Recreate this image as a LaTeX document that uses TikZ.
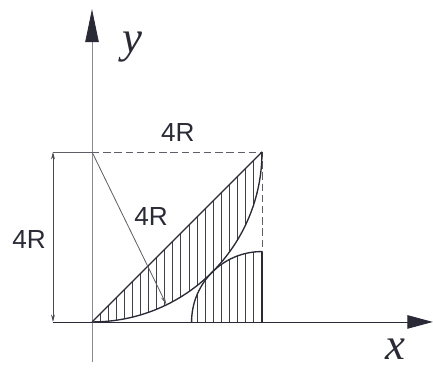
\documentclass[tikz,border=0pt]{standalone}
\usepackage{fontspec}
\setmainfont{Liberation Serif}
\setsansfont{Liberation Sans}
\usetikzlibrary{arrows.meta, positioning, calc}
\definecolor{ink}{HTML}{2A2A36}

\begin{document}
\begin{tikzpicture}[
  x=1cm, y=1cm,
  axisline/.style={draw=ink!75, line width=0.55pt},
  curve/.style={draw=ink, line width=0.9pt},
  hatch/.style={draw=ink!90, line width=0.5pt},
  dimline/.style={draw=ink!85, line width=0.5pt, {Stealth[length=5pt,width=2.6pt]}-{Stealth[length=5pt,width=2.6pt]}},
  guide/.style={draw=ink!75, line width=0.55pt, dash pattern=on 5pt off 2.5pt},
  lbl/.style={font=\sffamily\fontsize{17.5}{17.5}\selectfont, text=ink, inner sep=0pt},
  axlbl/.style={font=\fontsize{30}{30}\selectfont\itshape, text=ink, inner sep=0pt}
]
  \useasboundingbox (-2.165,-1.082) rectangle (8.024,7.576);

  % corners of the square 4R x 4R
  \coordinate (O) at (0,0);
  \coordinate (A) at (0,4);
  \coordinate (B) at (4,4);
  \coordinate (C) at (4,0);
  \coordinate (S) at (2.34315,0);
  \coordinate (T) at (4,1.65685);
  \coordinate (P) at ($(A)+(-64:4)$);
  \coordinate (D1) at (-0.918,0);
  \coordinate (D2) at (-0.918,4);

  % axes
  \draw[axisline, draw=ink, -{Triangle[length=17pt,width=9pt,color=ink]}] (D1) -- (8.02,0);
  \draw[axisline, draw=ink!55, -{Triangle[length=22pt,width=9pt,color=ink]}] (0,-0.94) -- (0,7.36);
  \node[axlbl] (ylab) at (0.94,6.47) {y};
  \node[axlbl] (xlab) at (7.13,-0.64) {x};

  % hatching
  \begin{scope}
    \clip (O) -- (B) arc[start angle=0, end angle=-90, radius=4] -- cycle
          (S) arc[start angle=180, end angle=90, radius=1.65685] -- (C) -- cycle;
    \foreach \i in {1,...,21}
      \draw[hatch] (\i*0.19,0) -- (\i*0.19,4);
  \end{scope}

  % outlines
  \draw[guide] (A) -- (B) -- (C);
  \draw[curve] (O) -- (B);
  \draw[curve] (B) arc[start angle=0, end angle=-90, radius=4];
  \draw[curve] (S) arc[start angle=180, end angle=90, radius=1.65685];
  \draw[curve] (T) -- (C);

  % radius and dimensions
  \draw[axisline, -{Stealth[length=6pt,width=2.6pt]}] (A) -- (P);
  \draw[dimline] (D1) -- (D2);
  \draw[axisline] (D2) -- (A);
  \node[lbl] (rlab) at (1.39,2.49) {4R};
  \node[lbl] (toplab) at (2.02,4.45) {4R};
  \node[lbl] (leftlab) at (-1.48,1.93) {4R};
\end{tikzpicture}
\end{document}
